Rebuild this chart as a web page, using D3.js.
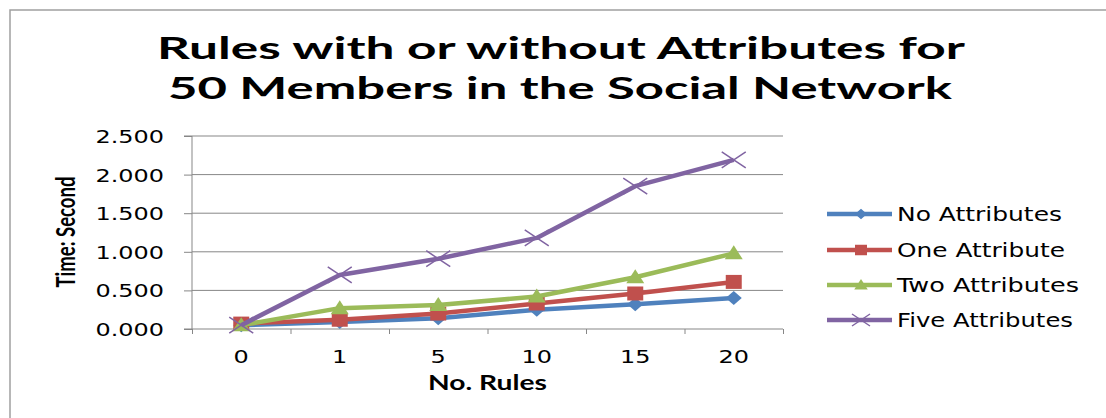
<!DOCTYPE html>
<html><head><meta charset="utf-8">
<script src="https://cdn.jsdelivr.net/npm/d3@7"></script>
<style>body{margin:0;background:#fff}svg{display:block}</style>
</head><body>
<script>
const categories = ["0","1","5","10","15","20"];
const seriesNames = ["No Attributes","One Attribute","Two Attributes","Five Attributes"];
const noAttributes   = [0.05, 0.09, 0.14, 0.25, 0.32, 0.40];
const oneAttribute   = [0.07, 0.12, 0.20, 0.33, 0.46, 0.61];
const twoAttributes  = [0.05, 0.27, 0.31, 0.42, 0.67, 0.98];
const fiveAttributes = [0.05, 0.70, 0.91, 1.18, 1.85, 2.19];
const yTicks = [0, 0.5, 1.0, 1.5, 2.0, 2.5];
const colors = ["#4F81BD","#C0504D","#9BBB59","#8064A2"];
const markers = ["diamond","square","triangle","x"];
const series = [noAttributes, oneAttribute, twoAttributes, fiveAttributes];

const W = 1106, H = 418, SX = 1.33;
const svg = d3.select("body").append("svg").attr("width", W).attr("height", H);
svg.append("path").attr("d", `M10,${H} L10,10 L${W},10`).attr("fill","none").attr("stroke","#a0a0a0").attr("stroke-width",1.5);

function stretch(sel, factor){
  sel.each(function(){
    const L = this.getComputedTextLength();
    d3.select(this).attr("textLength", L*factor).attr("lengthAdjust","spacingAndGlyphs");
  });
}

const x0 = 192, x1 = 783, y0 = 329, y1 = 136;
const x = d3.scaleBand().domain(categories).range([x0, x1]);
const y = d3.scaleLinear().domain([0, 2.5]).range([y0, y1]);

// title
const tfont = "Lato, 'Open Sans', sans-serif";
svg.append("text").attr("x",561).attr("y",59).attr("text-anchor","middle").attr("font-family",tfont)
  .attr("font-weight","bold").attr("font-size",31).attr("textLength",808).attr("lengthAdjust","spacingAndGlyphs")
  .text("Rules with or without Attributes for");
svg.append("text").attr("x",560).attr("y",99).attr("text-anchor","middle").attr("font-family",tfont)
  .attr("font-weight","bold").attr("font-size",31).attr("textLength",784).attr("lengthAdjust","spacingAndGlyphs")
  .text("50 Members in the Social Network");

// gridlines
svg.append("g").selectAll("line").data(yTicks.slice(1)).join("line")
  .attr("x1", x0).attr("x2", x1).attr("y1", d=>y(d)).attr("y2", d=>y(d))
  .attr("stroke","#878787").attr("stroke-width",1);

// axes
const yAxis = d3.axisLeft(y).tickValues(yTicks).tickFormat(d3.format(".3f")).tickSize(8).tickPadding(20);
const gy = svg.append("g").attr("transform",`translate(${x0},0)`).call(yAxis);
gy.select(".domain").attr("stroke","#878787").attr("d", `M-8,${y1}H0V${y0}H-8`);
gy.selectAll(".tick line").attr("stroke","#878787");
gy.selectAll("text").attr("font-family","'DejaVu Sans', sans-serif").attr("font-size",18).attr("fill","#000").attr("dy","0.36em");
stretch(gy.selectAll("text"), SX);

const xAxis = d3.axisBottom(d3.scaleLinear().domain([0,6]).range([x0,x1])).tickValues([0,1,2,3,4,5,6]).tickFormat("").tickSize(5);
const gx = svg.append("g").attr("transform",`translate(0,${y0})`).call(xAxis);
gx.select(".domain").attr("stroke","#878787").attr("d",`M${x0},0H${x1}`);
gx.selectAll(".tick line").attr("stroke","#878787");
const xl = svg.append("g").selectAll("text").data(categories).join("text")
  .attr("x", d=>x(d)+x.bandwidth()/2).attr("y", 363).attr("text-anchor","middle")
  .attr("font-family","'DejaVu Sans', sans-serif").attr("font-size",18).text(d=>d);
stretch(xl, SX);

// axis titles
svg.append("text").attr("x",487.5).attr("y",390).attr("text-anchor","middle")
  .attr("font-family",tfont).attr("font-weight","bold").attr("font-size",21)
  .attr("textLength",119).attr("lengthAdjust","spacingAndGlyphs").text("No. Rules");
svg.append("text").attr("transform",`translate(75,232) scale(${SX},1) rotate(-90)`).attr("text-anchor","middle")
  .attr("font-family",tfont).attr("font-weight","bold").attr("font-size",20)
  .attr("textLength",111).attr("lengthAdjust","spacingAndGlyphs").text("Time: Second");

function markerPath(type, s){
  if(type==="diamond") return `M0,${-7*s}L${8*s},0L0,${7*s}L${-8*s},0Z`;
  if(type==="square") return `M${-8*s},${-7*s}H${8*s}V${7*s}H${-8*s}Z`;
  if(type==="triangle") return `M0,${-8*s}L${9*s},${6*s}H${-9*s}Z`;
  return `M${-12*s},${-8*s}L${12*s},${8*s}M${-12*s},${8*s}L${12*s},${-8*s}`;
}
function drawMarker(g, type, color, s){
  const p = g.append("path").attr("d", markerPath(type, s));
  if(type==="x") p.attr("fill","none").attr("stroke",color).attr("stroke-width",1.5);
  else p.attr("fill",color);
}

const line = d3.line().x((d,i)=>x(categories[i])+x.bandwidth()/2).y(d=>y(d));
series.forEach((s,k)=>{
  svg.append("path").datum(s).attr("d", line).attr("fill","none").attr("stroke",colors[k]).attr("stroke-width",4.5).attr("stroke-linejoin","round");
  s.forEach((v,i)=>{
    const g = svg.append("g").attr("transform",`translate(${x(categories[i])+x.bandwidth()/2},${y(v)})`);
    drawMarker(g, markers[k], colors[k], 1);
  });
});

// legend
const legY = [214, 250, 285, 320];
const legW = [165, 168, 182, 176];
seriesNames.forEach((n,k)=>{
  const g = svg.append("g").attr("transform",`translate(0,${legY[k]})`);
  g.append("line").attr("x1",827).attr("x2",892).attr("y1",0).attr("y2",0).attr("stroke",colors[k]).attr("stroke-width",4.5);
  const m = g.append("g").attr("transform","translate(861,0)");
  drawMarker(m, markers[k], colors[k], 0.75);
  g.append("text").attr("x",897).attr("y",7).attr("font-family","'DejaVu Sans', sans-serif").attr("font-size",19)
    .attr("textLength",legW[k]).attr("lengthAdjust","spacingAndGlyphs").text(n);
});
</script>
</body></html>
